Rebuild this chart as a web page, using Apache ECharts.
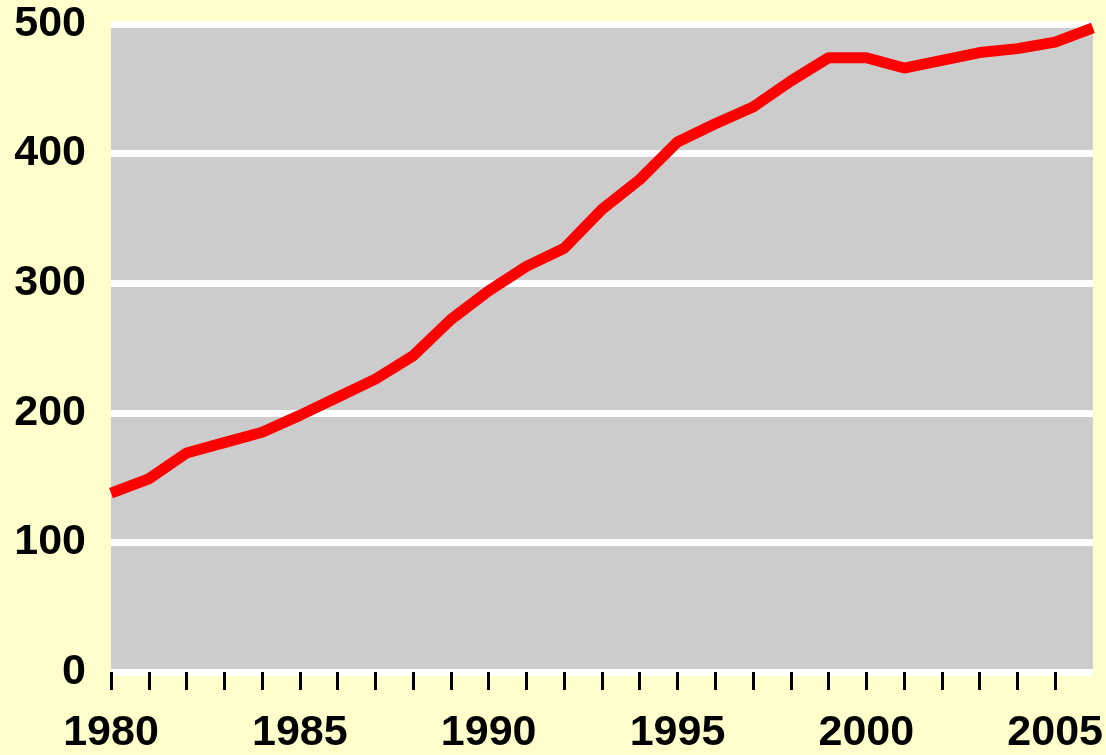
<!DOCTYPE html>
<html>
<head>
<meta charset="utf-8">
<script src="https://cdn.jsdelivr.net/npm/echarts@6/dist/echarts.min.js"></script>
<style>
  html, body { margin: 0; padding: 0; background: #FFFFCC; }
  #main { width: 1106px; height: 755px; }
</style>
</head>
<body>
<div id="main"></div>
<script>
  // years on the x axis
  var years = [1980, 1981, 1982, 1983, 1984, 1985, 1986, 1987, 1988, 1989,
               1990, 1991, 1992, 1993, 1994, 1995, 1996, 1997, 1998, 1999,
               2000, 2001, 2002, 2003, 2004, 2005, 2006];
  // values
  var values = [138, 149, 169, 177, 185, 198, 212, 226, 244, 272,
                294, 313, 327, 357, 380, 409, 423, 436, 456, 474,
                474, 466, 472, 478, 481, 486, 497];
  var yTicks = [0, 100, 200, 300, 400, 500];

  var labelFont = {
    color: '#000',
    fontWeight: 'bold',
    fontFamily: '"Liberation Sans", Arial, sans-serif',
    fontSize: 43
  };

  var chart = echarts.init(document.getElementById('main'));
  var option = {
    backgroundColor: '#FFFFCC',
    animation: false,
    grid: {
      left: 111, right: 12, top: 24, bottom: 79,
      show: true,
      backgroundColor: '#CCCCCC',
      borderWidth: 0
    },
    xAxis: {
      type: 'value',
      min: years[0],
      max: years[years.length - 1],
      interval: 1,
      axisLine: { show: false },
      axisTick: { show: true, length: 18, lineStyle: { color: '#000', width: 3 } },
      splitLine: { show: false },
      axisLabel: Object.assign({
        margin: 40,
        showMaxLabel: false,
        formatter: function (v) { return v % 5 === 0 ? String(v) : ''; }
      }, labelFont)
    },
    yAxis: {
      type: 'value',
      min: yTicks[0],
      max: yTicks[yTicks.length - 1],
      interval: 100,
      axisLine: { show: false },
      axisTick: { show: false },
      splitLine: { show: true, lineStyle: { color: '#FFFFFF', width: 7 } },
      axisLabel: Object.assign({ margin: 25 }, labelFont)
    },
    series: [{
      type: 'line',
      data: years.map(function (y, i) { return [y, values[i]]; }),
      showSymbol: false,
      symbol: 'none',
      lineStyle: { color: '#FF0000', width: 11 },
      z: 5
    }]
  };
  chart.setOption(option);
</script>
</body>
</html>
